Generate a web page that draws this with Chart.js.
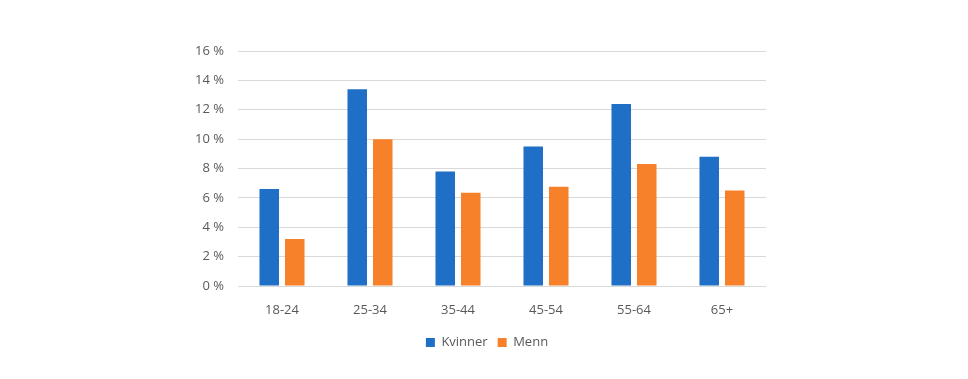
<!DOCTYPE html>
<html>
<head>
<meta charset="utf-8">
<script src="https://cdn.jsdelivr.net/npm/chart.js@4/dist/chart.umd.min.js"></script>
<style>
  html, body { margin: 0; padding: 0; background: #ffffff; }
  #wrap { width: 968px; height: 379px; position: relative; }
</style>
</head>
<body>
<div id="wrap"><canvas id="c" width="968" height="379"></canvas></div>
<script>
const categories = ["18-24", "25-34", "35-44", "45-54", "55-64", "65+"];
const kvinner = [6.6, 13.4, 7.8, 9.5, 12.4, 8.8];
const menn = [3.2, 10.0, 6.35, 6.75, 8.3, 6.5];
const seriesNames = ["Kvinner", "Menn"];
const yTicks = [0, 2, 4, 6, 8, 10, 12, 14, 16];

const textColor = "#595959";
const fontFamily = "'Open Sans', 'Liberation Sans', sans-serif";

const legendCenter = {
  id: "legendCenter",
  afterLayout(chart) {
    const l = chart.legend;
    if (l) { l.left = 6; l.right = 968; l.width = 962; }
  }
};

new Chart(document.getElementById("c"), {
  type: "bar",
  data: {
    labels: categories,
    datasets: [
      { label: seriesNames[0], data: kvinner, backgroundColor: "#1F6FC6", categoryPercentage: 0.58, barPercentage: 0.765 },
      { label: seriesNames[1], data: menn, backgroundColor: "#F7802A", categoryPercentage: 0.58, barPercentage: 0.765 }
    ]
  },
  plugins: [legendCenter],
  options: {
    responsive: false,
    animation: false,
    devicePixelRatio: 1,
    layout: { padding: { left: 0, right: 202, top: 51, bottom: 20 } },
    plugins: {
      legend: {
        position: "bottom",
        labels: {
          boxWidth: 9, boxHeight: 9, padding: 10,
          color: textColor,
          font: { family: fontFamily, size: 13 }
        }
      },
      tooltip: { enabled: false }
    },
    scales: {
      x: {
        grid: { display: false, drawTicks: false },
        border: { display: false },
        ticks: { color: textColor, padding: 16, font: { family: fontFamily, size: 13 } },
        afterFit: (s) => { s.height = 40; }
      },
      y: {
        min: 0, max: 16,
        afterBuildTicks: (s) => { s.ticks = yTicks.map(v => ({ value: v })); },
        grid: { color: "#d9d9d9", lineWidth: 1, drawTicks: false },
        border: { display: false },
        ticks: {
          color: textColor, padding: 14,
          font: { family: fontFamily, size: 13 },
          callback: (v) => v + " %"
        },
        afterFit: (s) => { s.width = 238; }
      }
    }
  }
});
</script>
</body>
</html>
